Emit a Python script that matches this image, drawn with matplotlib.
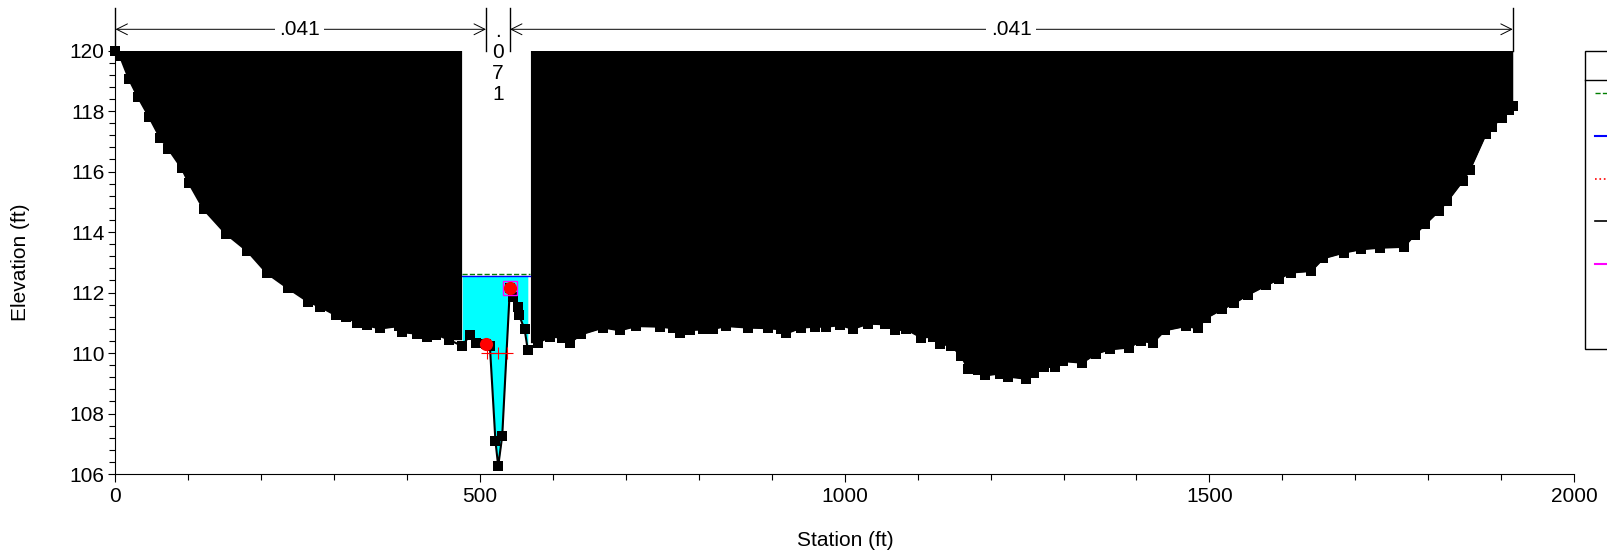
import matplotlib
matplotlib.use("Agg")
import matplotlib.pyplot as plt
import numpy as np
from matplotlib.patches import Rectangle
from matplotlib.lines import Line2D

plt.rcParams['font.family'] = ['Liberation Sans', 'DejaVu Sans']

# ground profile
station = [0, 6, 18.5, 30.8, 45.9, 61, 72.4, 90.7, 100.3, 120.9, 151, 180.7, 208, 236.5, 263.9, 281, 302,
           316.4, 331.5, 345, 362.6, 388.6, 392.3, 412.8, 427.5, 440, 457.2, 475.4, 486, 493.8, 507.9, 513.4,
           521, 524.8, 530.3, 540.8, 545.3, 551.3, 553.1, 561, 565.4, 579.6, 595.6, 612, 623, 639, 668.7,
           691.6, 714.4, 746.4, 764.7, 773.8, 787.5, 805.8, 819.5, 837.8, 867.5, 894.9, 913.2, 920, 940.6,
           958.9, 974.9, 993.1, 1011.4, 1032, 1054.9, 1068.6, 1084.6, 1105.1, 1121, 1131.2, 1146.3, 1160,
           1169.1, 1182.8, 1191.9, 1212.5, 1224.3, 1247.9, 1259.6, 1273.9, 1288, 1299.8, 1325.7, 1344.6,
           1363.5, 1389.4, 1406, 1422.5, 1439, 1467.3, 1483.8, 1495.7, 1517, 1533.5, 1552.4, 1578.3, 1594.8,
           1611.4, 1639.6, 1656.2, 1684.6, 1708.2, 1734.1, 1767, 1781.4, 1795.5, 1814.4, 1826.2, 1847.4,
           1856.8, 1879, 1887.5, 1900.8, 1910.2, 1916]
elevation = [120, 119.82, 119.05, 118.46, 117.81, 117.12, 116.75, 116.11, 115.63, 114.75, 113.95, 113.37,
             112.63, 112.14, 111.70, 111.52, 111.25, 111.2, 110.98, 110.91, 110.81, 110.89, 110.69, 110.64,
             110.53, 110.61, 110.44, 110.23, 110.6, 110.32, 110.3, 110.23, 107.09, 106.26, 107.26, 112.14,
             111.84, 111.53, 111.27, 110.78, 110.1, 110.34, 110.54, 110.51, 110.34, 110.62, 110.84, 110.75,
             110.89, 110.87, 110.82, 110.65, 110.76, 110.78, 110.80, 110.89, 110.84, 110.82, 110.78, 110.65,
             110.84, 110.87, 110.87, 110.92, 110.80, 110.97, 110.95, 110.75, 110.78, 110.51, 110.54, 110.31,
             110.23, 109.90, 109.46, 109.44, 109.26, 109.32, 109.22, 109.15, 109.35, 109.54, 109.54, 109.73,
             109.68, 109.98, 110.12, 110.18, 110.40, 110.34, 110.75, 110.89, 110.82, 111.16, 111.44, 111.64,
             111.92, 112.24, 112.44, 112.66, 112.71, 113.13, 113.32, 113.43, 113.48, 113.51, 113.91, 114.25,
             114.69, 115.02, 115.69, 116.04, 117.23, 117.47, 117.78, 118.03, 118.15]

bank_station = [507.9, 540.8]
bank_elevation = [110.3, 112.14]
levee_station = [540.8]
levee_elevation = [112.14]
crit_station = [508.8, 524.8, 537]
crit_elevation = [110.01, 110.01, 110.01]
eg_level = 112.6
ws_level = 112.55
ineffective_left = 474.6
ineffective_right = 569
n_breaks = [0, 508, 541, 1916]
n_values = [".041", ".\n0\n7\n1", ".041"]
n_label_x = [252, 524.5, 1228]
x_ticks = [0, 500, 1000, 1500, 2000]
y_ticks = [106, 108, 110, 112, 114, 116, 118, 120]

W, H = 1608, 557
fig = plt.figure(figsize=(W / 100, H / 100), dpi=100)
left, right, top, bottom = 115.5, 1574, 50.5, 474
ax = fig.add_axes([left / W, 1 - bottom / H, (right - left) / W, (bottom - top) / H])

st = np.array(station)
el = np.array(elevation)

# water
mask = (st >= ineffective_left - 5) & (st <= ineffective_right + 5)
ax.fill_between(st[mask], el[mask], ws_level, where=el[mask] <= ws_level, color="#00ffff", lw=0, zorder=1)
ax.plot([ineffective_left, ineffective_right], [eg_level, eg_level], color="#007f00", ls="--", lw=1, zorder=3)
ax.plot([ineffective_left, ineffective_right], [ws_level, ws_level], color="#0000ff", lw=1, zorder=3)

# ineffective flow blocks
ml = st <= ineffective_left
mr = st >= ineffective_right
ax.fill_between(np.append(st[ml], ineffective_left), np.append(el[ml], el[ml][-1]), 120, color="black", lw=0, zorder=2)
sr = np.insert(st[mr], 0, ineffective_right)
er = np.insert(el[mr], 0, el[mr][0])
ax.fill_between(sr, er, 120, color="black", lw=0, zorder=2)

ax.plot(station, elevation, color="black", lw=1.5, marker="s", ms=7.5, mew=0, clip_on=False, zorder=4)
ax.plot(crit_station, crit_elevation, color="#ff0000", lw=0.8, marker="+", ms=9, mew=0.8, zorder=5)
ax.plot(levee_station, levee_elevation, ls="none", marker="s", ms=9.5, mfc="none", mec="#ff00ff", mew=1, zorder=5)
ax.plot(bank_station, bank_elevation, ls="none", marker="o", ms=9.5, color="#ff0000", mew=0, zorder=6)

ax.set_xlim(0, 2000)
ax.set_ylim(106, 120)
ax.spines["top"].set_visible(False)
ax.spines["right"].set_visible(False)
ax.set_xticks(x_ticks)
ax.set_yticks(y_ticks)
ax.set_xticks(np.arange(0, 2001, 100), minor=True)
ax.set_yticks(np.arange(106, 120.01, 0.4), minor=True)
ax.tick_params(which="major", length=5.4, width=0.8, labelsize=15, pad=3.6)
ax.tick_params(which="minor", length=4, width=0.8)
ax.tick_params(axis="y", which="major", pad=2.5)
fig.text(845 / W, 1 - 540.5 / H, "Station (ft)", fontsize=15, ha="center", va="center")
fig.text(21 / W, 1 - 262 / H, "Elevation (ft)", fontsize=15, ha="center", va="center", rotation=90)

# Manning n markers along the top
trans = ax.get_xaxis_transform()
arrow_y = 1 + (top - 29.3) / (bottom - top)
top_y = 1 + (top - 8) / (bottom - top)
for s in n_breaks:
    ax.plot([s, s], [1, top_y], color="black", lw=1, transform=trans, clip_on=False)
for a, b in [(n_breaks[0], n_breaks[1]), (n_breaks[2], n_breaks[3])]:
    ax.annotate("", xy=(a, arrow_y), xytext=(b, arrow_y), xycoords=trans, textcoords=trans,
                arrowprops=dict(arrowstyle="<->,head_length=0.6,head_width=0.3", lw=0.7, color="black",
                                mutation_scale=13, shrinkA=0, shrinkB=0))
ax.text(n_label_x[0], arrow_y, n_values[0], transform=trans, fontsize=15, ha="center", va="center",
        bbox=dict(fc="white", ec="none", pad=3), zorder=7)
ax.text(n_label_x[2], arrow_y, n_values[2], transform=trans, fontsize=15, ha="center", va="center",
        bbox=dict(fc="white", ec="none", pad=3), zorder=7)
ax.text(n_label_x[1], 1 + (top - 63) / (bottom - top), n_values[1], transform=trans, fontsize=15,
        ha="center", va="center", linespacing=1.15, zorder=7)

# legend box, runs off the right edge like the original
fig.add_artist(Rectangle((1585 / W, 1 - 349 / H), 60 / W, 298.5 / H, transform=fig.transFigure,
                         fc="white", ec="black", lw=1))
fig.add_artist(Line2D([1585 / W, 1], [1 - 80 / H, 1 - 80 / H], color="black", lw=1))
legend_y = [93, 136, 178.7, 221, 264]
legend_style = [("#007f00", "--", 1), ("#0000ff", "-", 1.5), ("#ff0000", ":", 1.2), ("black", "-", 1.2), ("#ff00ff", "-", 1.5)]
for y, (c, ls, lw) in zip(legend_y, legend_style):
    fig.add_artist(Line2D([1595 / W, 1], [1 - y / H, 1 - y / H], color=c, ls=ls, lw=lw))

fig.savefig("out.png", dpi=100)
